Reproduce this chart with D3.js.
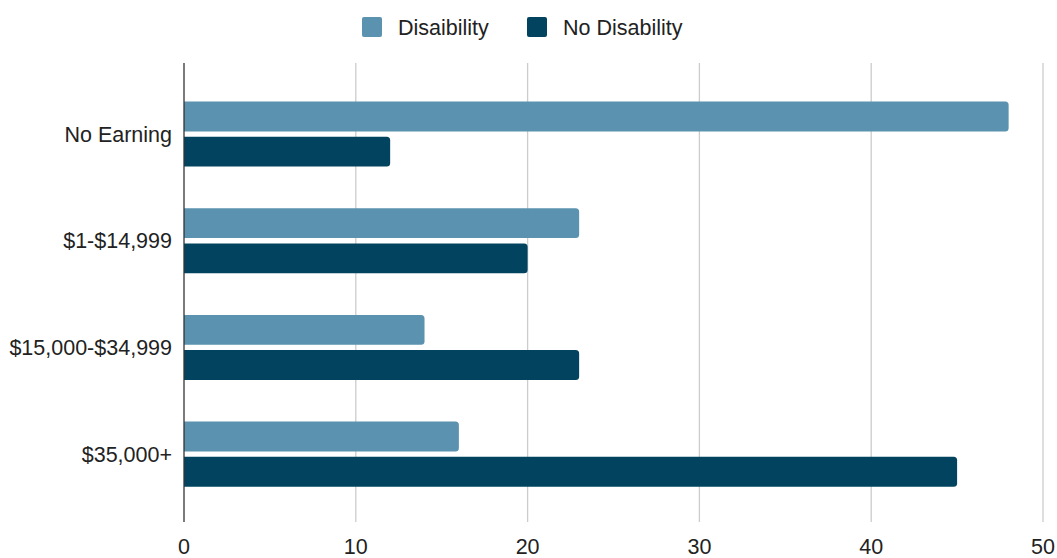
<!DOCTYPE html>
<html>
<head>
<meta charset="utf-8">
<script src="https://cdn.jsdelivr.net/npm/d3@7"></script>
<style>
  body { margin: 0; background: #fff; }
  text { font-family: "Liberation Sans", Arial, sans-serif; fill: #222; }
</style>
</head>
<body>
<div id="chart"></div>
<script>
const categories = ["No Earning", "$1-$14,999", "$15,000-$34,999", "$35,000+"];
const seriesNames = ["Disaibility", "No Disability"];
const disability = [48, 23, 14, 16];
const noDisability = [12, 20, 23, 45];
const xTicks = [0, 10, 20, 30, 40, 50];
const colors = ["#5a92af", "#02445f"];

const width = 1057, height = 558;
const margin = { top: 63, right: 14, bottom: 36, left: 184 };
const fontSize = "21.5px";

const svg = d3.select("#chart").append("svg")
    .attr("width", width)
    .attr("height", height);

const x = d3.scaleLinear()
    .domain([0, 50])
    .range([margin.left, 1043]);

const y = d3.scaleBand()
    .domain(categories)
    .range([80.7, 507.5])
    .paddingInner(0.39)
    .paddingOuter(0.195);

const sub = d3.scaleBand()
    .domain(seriesNames)
    .range([0, y.bandwidth()])
    .paddingInner(0.15);

// gridlines
svg.append("g")
  .selectAll("line")
  .data(xTicks.slice(1))
  .enter().append("line")
    .attr("x1", d => x(d)).attr("x2", d => x(d))
    .attr("y1", margin.top).attr("y2", 522)
    .attr("stroke", "#cccccc")
    .attr("stroke-width", 1.3);

// tick labels
svg.append("g")
  .selectAll("text")
  .data(xTicks)
  .enter().append("text")
    .attr("x", d => x(d))
    .attr("y", 554)
    .attr("text-anchor", "middle")
    .style("font-size", fontSize)
    .text(d => d);

// bars
const rows = categories.map((c, i) => ({ cat: c, vals: [disability[i], noDisability[i]] }));

function barPath(x0, y0, w, h, r) {
  r = Math.min(r, w);
  return `M${x0},${y0}H${x0 + w - r}Q${x0 + w},${y0} ${x0 + w},${y0 + r}` +
         `V${y0 + h - r}Q${x0 + w},${y0 + h} ${x0 + w - r},${y0 + h}H${x0}Z`;
}

svg.append("g")
  .selectAll("g")
  .data(rows)
  .enter().append("g")
    .attr("transform", d => `translate(0,${y(d.cat)})`)
  .selectAll("path")
  .data(d => d.vals.map((v, j) => ({ v, name: seriesNames[j], j })))
  .enter().append("path")
    .attr("d", d => barPath(x(0), sub(d.name), x(d.v) - x(0), sub.bandwidth(), 3.5))
    .attr("fill", d => colors[d.j]);

// left axis line
svg.append("line")
    .attr("x1", x(0)).attr("x2", x(0))
    .attr("y1", margin.top).attr("y2", 522)
    .attr("stroke", "#333")
    .attr("stroke-width", 1.3);

// category labels
svg.append("g")
  .selectAll("text")
  .data(categories)
  .enter().append("text")
    .attr("x", 172)
    .attr("y", d => y(d) + y.bandwidth() / 2)
    .attr("dy", "0.35em")
    .attr("text-anchor", "end")
    .style("font-size", fontSize)
    .text(d => d);

// legend
const legendX = [362, 527];
const legend = svg.append("g")
  .selectAll("g")
  .data(seriesNames)
  .enter().append("g")
    .attr("transform", (d, i) => `translate(${legendX[i]},17)`);

legend.append("rect")
    .attr("width", 20).attr("height", 20)
    .attr("rx", 2)
    .attr("fill", (d, i) => colors[i]);

legend.append("text")
    .attr("x", 36)
    .attr("y", 10)
    .attr("dy", "0.35em")
    .style("font-size", fontSize)
    .text(d => d);
</script>
</body>
</html>
